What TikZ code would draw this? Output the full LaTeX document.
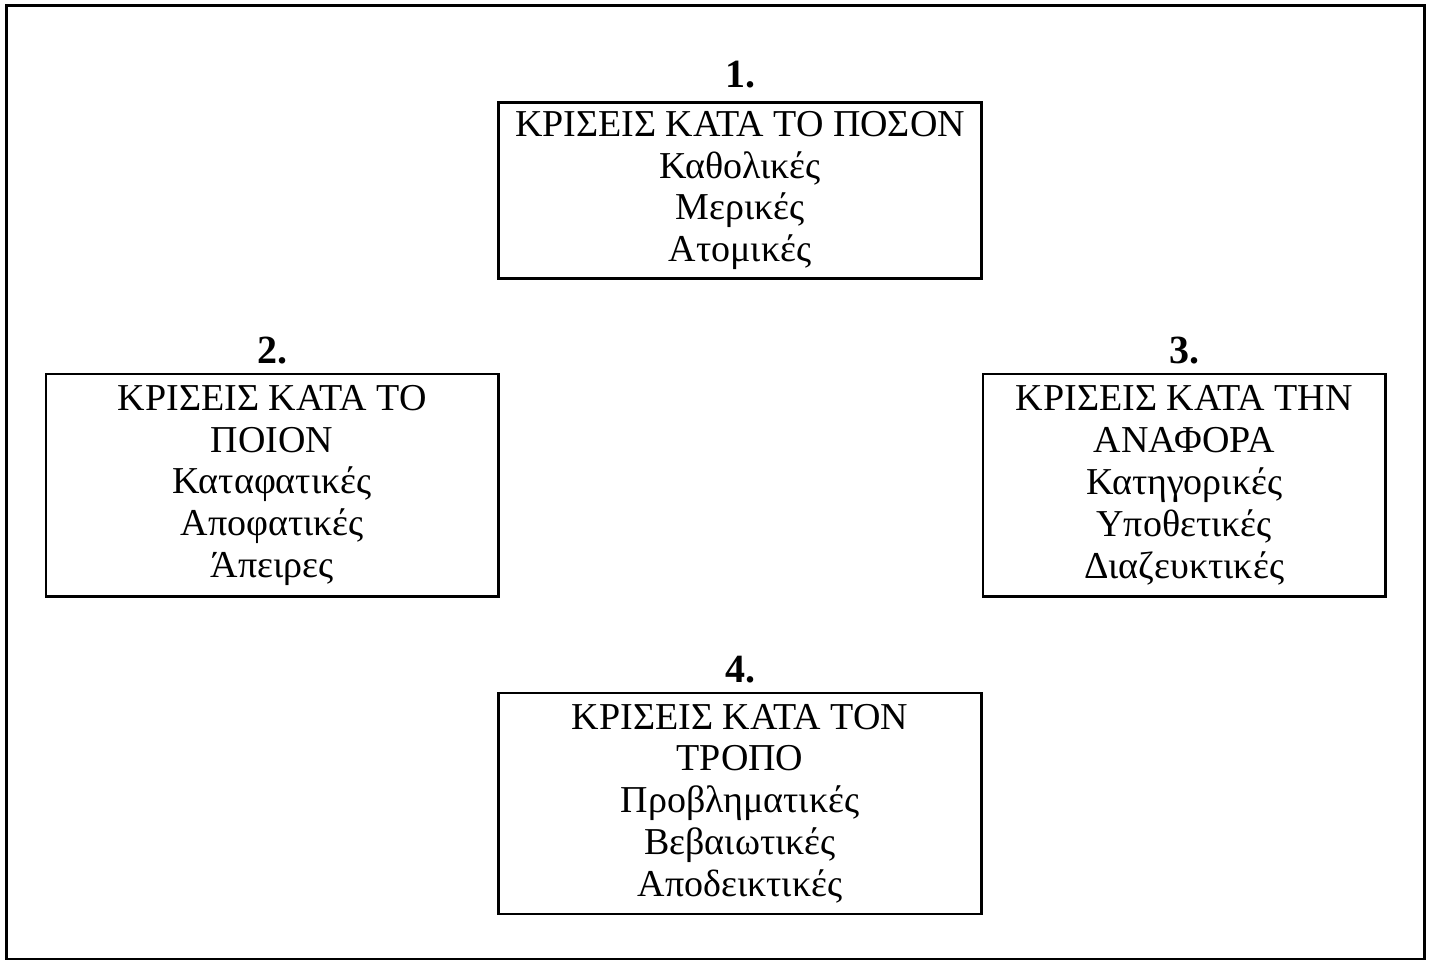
\documentclass[tikz,border=0pt]{standalone}
\usepackage{fontspec}
\setmainfont{Liberation Serif}
\begin{document}
\begin{tikzpicture}[x=1pt,y=-1pt,
  catbox/.style={draw,line width=2.6pt,inner sep=0pt,align=center,
    font={\fontsize{38}{41.8}\selectfont}},
  numlabel/.style={anchor=base,inner sep=0pt,font={\fontsize{40}{44}\selectfont\bfseries}}]
\useasboundingbox (0,0) rectangle (1432,960);
\draw[line width=3pt] (6.5,5.5) rectangle (1424,959.5);
\node[catbox,minimum width=483.5pt,minimum height=176.5pt] (b1) at (740,190.5)
  {ΚΡΙΣΕΙΣ ΚΑΤΑ ΤΟ ΠΟΣΟΝ\\Καθολικές\\Μερικές\\Ατομικές};
\node[catbox,minimum width=452.5pt,minimum height=222.5pt] (b2) at (272.2,485.3)
  {ΚΡΙΣΕΙΣ ΚΑΤΑ ΤΟ\\ΠΟΙΟΝ\\Καταφατικές\\Αποφατικές\\Άπειρες};
\node[catbox,minimum width=402.5pt,minimum height=222.5pt] (b3) at (1184.2,485.3)
  {ΚΡΙΣΕΙΣ ΚΑΤΑ ΤΗΝ\\ΑΝΑΦΟΡΑ\\Κατηγορικές\\Υποθετικές\\Διαζευκτικές};
\node[catbox,minimum width=483pt,minimum height=221pt] (b4) at (740,803.5)
  {ΚΡΙΣΕΙΣ ΚΑΤΑ ΤΟΝ\\ΤΡΟΠΟ\\Προβληματικές\\Βεβαιωτικές\\Αποδεικτικές};
\node[numlabel] (n1) at (740,88) {1.};
\node[numlabel] (n2) at (272.2,363) {2.};
\node[numlabel] (n3) at (1184.2,363) {3.};
\node[numlabel] (n4) at (740,682) {4.};
\end{tikzpicture}
\end{document}
